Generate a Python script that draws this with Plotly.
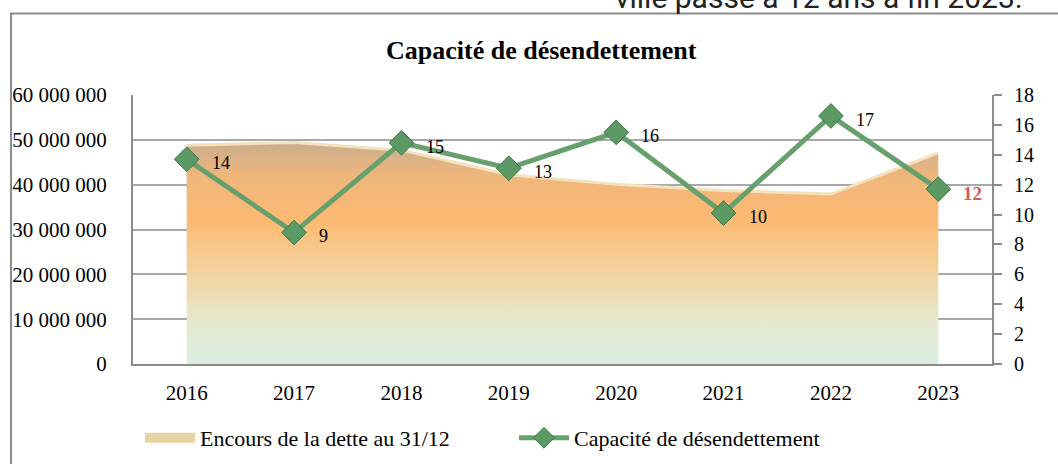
import plotly.graph_objects as go

# ---------------- data ----------------
years = ["2016", "2017", "2018", "2019", "2020", "2021", "2022", "2023"]
encours = [48.8e6, 49.4e6, 47.7e6, 42.2e6, 40.1e6, 38.7e6, 37.9e6, 47.1e6]
capacite = [13.7, 8.8, 14.8, 13.1, 15.5, 10.1, 16.6, 11.7]
capacite_labels = [str(round(v)) for v in capacite]
left_tickvals = [0, 10e6, 20e6, 30e6, 40e6, 50e6, 60e6]
left_ticktext = ["0", "10 000 000", "20 000 000", "30 000 000", "40 000 000", "50 000 000", "60 000 000"]
right_tickvals = [0, 2, 4, 6, 8, 10, 12, 14, 16, 18]

title_text = "Capacité de désendettement"
name_area = "Encours de la dette au 31/12"
name_line = "Capacité de désendettement"
top_text = "ville passe à 12 ans à fin 2023."

# ---------------- layout helpers (pixels -> paper) ----------------
W, H = 1058, 464
L, R, T, B = 133, 992, 95, 364


def px_x(p):
    return (p - L) / (R - L)


def px_y(p):
    return (B - p) / (B - T)


SERIF = "Liberation Serif, Times New Roman, serif"
GRAY = "#8c8c8c"

xs = list(range(len(years)))

fig = go.Figure()

# area (drawn, legend via proxy below)
fig.add_trace(go.Scatter(
    x=xs, y=encours, name=name_area, mode="lines", showlegend=False,
    line=dict(color="#f2e2bd", width=3),
    fill="tozeroy", fillcolor="#f6c58a",
    fillgradient=dict(
        type="vertical",
        start=0, stop=49.4e6,
        colorscale=[
            [0.0, "#d9eee0"],
            [0.2, "#e6e8cc"],
            [0.45, "#f4cf98"],
            [0.65, "#fcb972"],
            [0.85, "#efb67c"],
            [1.0, "#c9ae8e"],
        ],
    ),
    hoverinfo="skip",
))

# legend proxy for the area series
fig.add_trace(go.Scatter(
    x=[None], y=[None], name=name_area, mode="lines",
    line=dict(color="#e6d2a2", width=11),
))

fig.add_trace(go.Scatter(
    x=xs, y=capacite, name=name_line, mode="lines+markers", yaxis="y2",
    line=dict(color="#67a06c", width=5),
    marker=dict(symbol="diamond", size=19, color="#5b9a64",
                line=dict(color="#3d7446", width=1)),
))

annotations = []
for i, (v, lab) in enumerate(zip(capacite, capacite_labels)):
    last = i == len(capacite) - 1
    annotations.append(dict(
        x=i, y=v, xref="x", yref="y2", text=("<b>%s</b>" % lab) if last else lab,
        showarrow=False, xanchor="left", yanchor="middle", xshift=23, yshift=-4,
        font=dict(family=SERIF, size=19 if last else 18, color="#d9575d" if last else "#000000"),
    ))

annotations.append(dict(
    x=px_x(541), y=px_y(50), xref="paper", yref="paper", text="<b>%s</b>" % title_text,
    showarrow=False, xanchor="center", yanchor="middle",
    font=dict(family=SERIF, size=26, color="#000000"),
))

annotations.append(dict(
    x=px_x(1025), y=px_y(17), xref="paper", yref="paper", text=top_text,
    showarrow=False, xanchor="right", yanchor="bottom",
    font=dict(family="Roboto, sans-serif", size=30, color="#222222"),
))

fig.update_layout(
    width=W, height=H,
    margin=dict(l=L, r=W - R, t=T, b=H - B, autoexpand=False),
    paper_bgcolor="white", plot_bgcolor="white",
    showlegend=True,
    legend=dict(
        orientation="h", x=px_x(140), xanchor="left", y=px_y(438), yanchor="middle",
        font=dict(family=SERIF, size=22, color="#000000"),
        itemwidth=50, entrywidth=309, bgcolor="rgba(0,0,0,0)",
    ),
    xaxis=dict(
        range=[-0.5, 7.5], tickvals=xs, ticktext=years, showgrid=False,
        showline=True, linecolor=GRAY, linewidth=2, ticks="", zeroline=False,
        tickfont=dict(family=SERIF, size=21, color="#000000"), ticklabelstandoff=9,
    ),
    yaxis=dict(
        range=[0, 60e6], tickvals=left_tickvals, ticktext=left_ticktext,
        showgrid=True, gridcolor="#a8a8a8", gridwidth=2, zeroline=False,
        showline=True, linecolor=GRAY, linewidth=2, ticks="",
        tickfont=dict(family=SERIF, size=21, color="#000000"), ticklabelstandoff=20,
    ),
    yaxis2=dict(
        range=[0, 18], tickvals=right_tickvals, overlaying="y", side="right",
        showgrid=False, zeroline=False, showline=True, linecolor=GRAY, linewidth=2,
        ticks="outside", ticklen=8, tickwidth=2, tickcolor=GRAY,
        tickfont=dict(family=SERIF, size=20, color="#000000"), ticklabelstandoff=8,
    ),
    annotations=annotations,
    shapes=[dict(
        type="rect", xref="paper", yref="paper",
        x0=px_x(11), x1=px_x(1080), y0=px_y(13.5), y1=px_y(500),
        line=dict(color=GRAY, width=2), fillcolor="rgba(0,0,0,0)", layer="below",
    )],
)

fig.write_html("out.html", config={"displayModeBar": False},
               post_script="document.body.style.margin='0';")
